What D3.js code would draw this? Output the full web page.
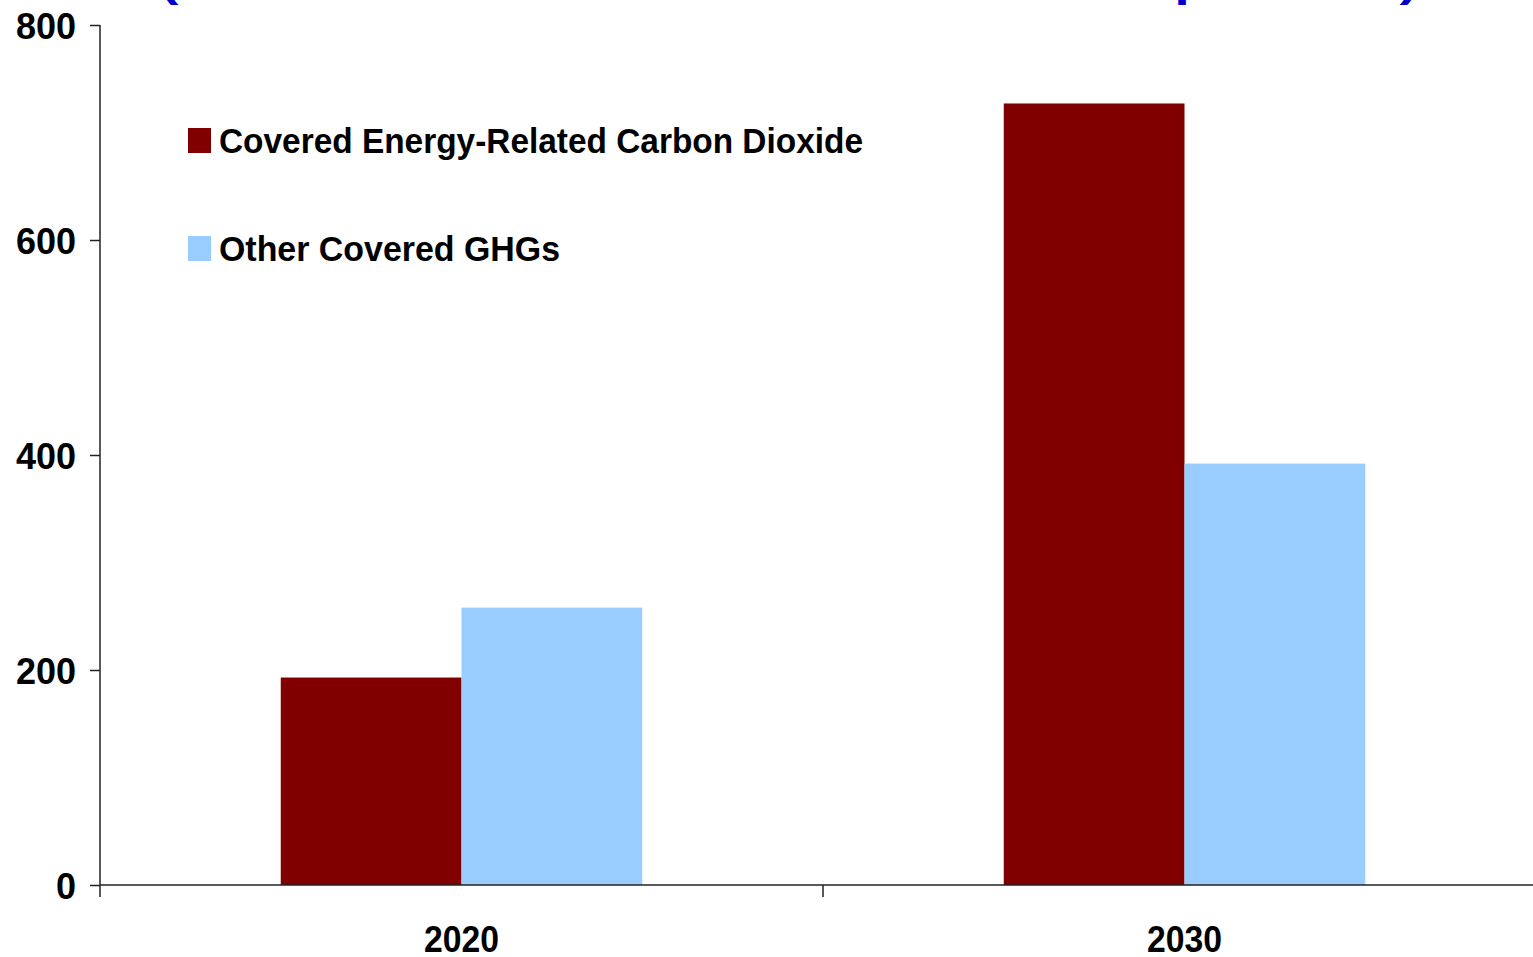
<!DOCTYPE html>
<html>
<head>
<meta charset="utf-8">
<script src="https://cdn.jsdelivr.net/npm/d3@7"></script>
<style>
  html, body { margin: 0; padding: 0; background: #fff; overflow: hidden; }
  svg { display: block; }
  text { font-family: "Liberation Sans", Arial, sans-serif; font-weight: bold; }
</style>
</head>
<body>
<svg id="chart" width="1533" height="957"></svg>
<script>
const categories = ["2020", "2030"];
const seriesNames = ["Covered Energy-Related Carbon Dioxide", "Other Covered GHGs"];
const co2Values = [193, 727];
const otherValues = [258, 392];
const yTicks = [0, 200, 400, 600, 800];
const titleText = "(Million Metric Tons Carbon Dioxide Equivalent)";
const colors = ["#800000", "#99CCFF"];

const svg = d3.select("#chart");
const plotLeft = 100, plotRight = 1546, plotTop = 25, plotBottom = 885;

const x = d3.scaleBand().domain(categories).range([plotLeft, plotRight]).paddingInner(0).paddingOuter(0);
const xInner = d3.scaleBand().domain(seriesNames)
  .range([x.bandwidth() * 0.25, x.bandwidth() * 0.75]).padding(0);
const y = d3.scaleLinear().domain([0, 800]).range([plotBottom, plotTop]);

const table = categories.map((c, i) => ({ cat: c, vals: [co2Values[i], otherValues[i]] }));

// title (mostly above the visible area)
svg.append("text")
  .attr("x", 160).attr("y", -3)
  .attr("textLength", 1258).attr("lengthAdjust", "spacingAndGlyphs")
  .attr("fill", "#0000CC").attr("font-size", 40)
  .text(titleText);

// bars
const g = svg.append("g");
table.forEach(row => {
  row.vals.forEach((v, j) => {
    g.append("rect")
      .attr("x", x(row.cat) + xInner(seriesNames[j]))
      .attr("width", xInner.bandwidth())
      .attr("y", y(v))
      .attr("height", y(0) - y(v))
      .attr("fill", colors[j]);
  });
});

// y axis
const yAxis = d3.axisLeft(y).tickValues(yTicks).tickSize(10).tickPadding(14).tickFormat(d3.format("d"));
const ya = svg.append("g").attr("transform", `translate(${plotLeft},0)`).call(yAxis);
ya.select(".domain").remove();
ya.append("line").attr("x1", 0).attr("x2", 0).attr("y1", plotTop).attr("y2", plotBottom + 12)
  .attr("stroke", "#222").attr("stroke-width", 1.5);
ya.selectAll(".tick line").attr("stroke", "#222").attr("stroke-width", 1.5);
ya.selectAll(".tick text").attr("fill", "#000").attr("font-size", 36)
  .attr("font-family", "Liberation Sans, Arial, sans-serif").attr("font-weight", "bold")
  .attr("dy", "0.37em");

// x axis
const xa = svg.append("g").attr("transform", `translate(0,${plotBottom})`);
xa.append("line").attr("x1", plotLeft).attr("x2", plotRight).attr("y1", 0).attr("y2", 0)
  .attr("stroke", "#222").attr("stroke-width", 1.5);
categories.slice(1).forEach(c => {
  xa.append("line").attr("x1", x(c)).attr("x2", x(c)).attr("y1", 0).attr("y2", 12)
    .attr("stroke", "#222").attr("stroke-width", 1.5);
});
categories.forEach(c => {
  xa.append("text")
    .attr("x", x(c) + x.bandwidth() / 2).attr("y", 67)
    .attr("text-anchor", "middle").attr("font-size", 36)
    .attr("textLength", 75).attr("lengthAdjust", "spacingAndGlyphs")
    .attr("fill", "#000").text(c);
});

// legend
const legend = svg.append("g");
const legendWidths = [644, 341];
seriesNames.forEach((s, j) => {
  const ly = 128 + j * 108;
  legend.append("rect").attr("x", 188).attr("y", ly).attr("width", 23).attr("height", 25).attr("fill", colors[j]);
  legend.append("text").attr("x", 219).attr("y", ly + 25)
    .attr("font-size", 35).attr("fill", "#000")
    .attr("textLength", legendWidths[j]).attr("lengthAdjust", "spacingAndGlyphs")
    .text(s);
});
</script>
</body>
</html>
